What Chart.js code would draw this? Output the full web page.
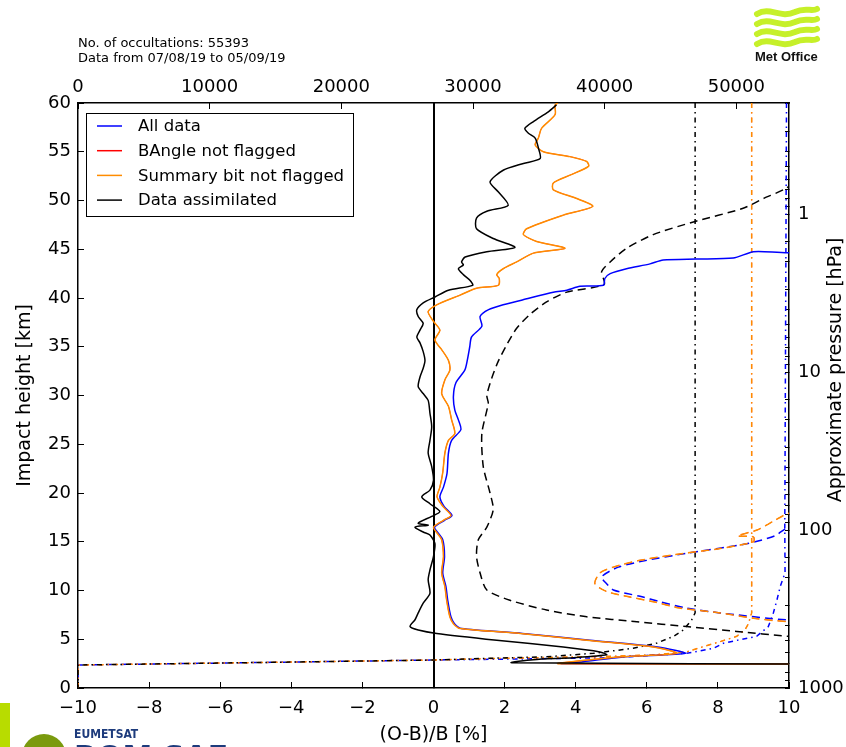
<!DOCTYPE html>
<html>
<head>
<meta charset="utf-8">
<title>Bending angle (O-B)/B statistics</title>
<script src="https://cdn.jsdelivr.net/npm/chart.js@4.4.1/dist/chart.umd.min.js"></script>
<style>
  html, body { margin: 0; padding: 0; background: #fff; }
  #wrap { position: relative; width: 846px; height: 747px; }
</style>
</head>
<body>
<div id="wrap"><canvas id="obChart"></canvas></div>
<script>
// header info
const nOccultations = 55393;
const dateFrom = "07/08/19";
const dateTo = "05/09/19";

const legendLabels = ["All data", "BAngle not flagged", "Summary bit not flagged", "Data assimilated"];
const colours = ["#0000ff", "#ff0000", "#ff8c00", "#000000"];

// tick labels
const obTicks = [-10, -8, -6, -4, -2, 0, 2, 4, 6, 8, 10];
const heightTicks = [0, 5, 10, 15, 20, 25, 30, 35, 40, 45, 50, 55, 60];
const countTicks = [0, 10000, 20000, 30000, 40000, 50000];
const pressureTicks = [1, 10, 100, 1000];

// mean (O-B)/B [%] against impact height [km]
const allMeanH = [59.8, 45.1, 44.75, 44.1, 44.0, 43.9, 43.5, 43.0, 42.5, 42.0, 41.3, 41.2, 40.8, 40.6, 39.8, 39.3, 38.8, 38.1, 37.1, 36.0, 35.0, 33.6, 32.6, 31.3, 29.9, 28.5, 27.5, 26.5, 25.4, 24.1, 22.0, 20.6, 19.6, 18.6, 17.7, 17.2, 16.5, 15.9, 15.2, 13.5, 11.8, 10.4, 9.0, 7.3, 6.6, 6.1, 5.6, 4.9, 4.2, 3.55, 3.2, 2.7, 2.5, 2.45];
const allMean = [13, 10.5, 9.0, 8.43, 7.40, 6.46, 6.09, 5.43, 4.97, 4.82, 4.78, 4.12, 3.75, 3.37, 2.5, 1.96, 1.55, 1.31, 1.36, 1.07, 1.02, 0.95, 0.88, 0.63, 0.56, 0.60, 0.70, 0.77, 0.51, 0.42, 0.38, 0.28, 0.18, 0.30, 0.52, 0.31, 0.03, 0.13, 0.26, 0.31, 0.26, 0.35, 0.40, 0.49, 0.59, 0.79, 2.5, 4.4, 6.3, 7.08, 5.4, 4.2, 3.6, 12];

const summaryMeanH = [60, 59.8, 58.8, 57.4, 56.4, 55.7, 55.0, 54.5, 54.0, 53.5, 52.6, 51.8, 51.1, 50.2, 49.4, 48.5, 47.1, 46.5, 45.8, 45.1, 44.6, 43.7, 43.0, 42.4, 42.0, 41.3, 41.0, 40.3, 39.3, 38.6, 37.6, 36.7, 35.7, 34.7, 33.6, 32.6, 31.6, 30.2, 28.9, 27.5, 26.1, 25.4, 24.1, 22.1, 20.6, 19.6, 18.6, 17.7, 17.2, 16.5, 15.9, 15.2, 13.5, 11.8, 10.4, 9.0, 7.3, 6.6, 6.1, 5.6, 4.9, 4.2, 3.55, 3.2, 2.7, 2.5, 2.45];
const summaryMean = [3.5, 3.42, 3.42, 3.04, 2.95, 2.86, 3.09, 3.84, 4.31, 4.36, 3.84, 3.37, 3.37, 4.03, 4.48, 3.65, 2.62, 2.53, 2.90, 3.70, 2.81, 2.34, 1.96, 1.78, 1.85, 1.82, 1.21, 0.75, 0.09, -0.15, 0.0, 0.18, 0.04, 0.23, 0.42, 0.46, 0.32, 0.23, 0.42, 0.51, 0.60, 0.42, 0.32, 0.26, 0.18, 0.10, 0.27, 0.49, 0.28, 0.0, 0.10, 0.23, 0.28, 0.23, 0.32, 0.37, 0.46, 0.56, 0.75, 2.44, 4.31, 6.19, 6.85, 5.3, 3.89, 3.5, 12];

// BAngle not flagged sits under the summary-bit curve in the plot
const bangleMeanH = summaryMeanH;
const bangleMean = summaryMean;

const assimMeanH = [59.8, 59.1, 58.1, 57.4, 56.9, 56.4, 55.4, 54.3, 53.8, 53.1, 51.9, 50.9, 49.5, 48.9, 48.2, 47.1, 46.1, 45.2, 44.75, 44.2, 43.7, 43.4, 43.0, 42.4, 41.8, 41.3, 40.8, 40.1, 39.5, 38.8, 38.1, 37.4, 36.7, 36.0, 35.4, 34.5, 33.6, 32.8, 31.9, 30.9, 30.2, 29.5, 28.2, 26.8, 25.4, 24.1, 22.7, 21.3, 20.3, 19.6, 18.9, 18.1, 17.6, 16.9, 16.7, 16.5, 16.0, 15.7, 14.8, 13.5, 12.1, 11.1, 9.7, 8.7, 7.7, 7.0, 6.3, 5.95, 5.6, 4.9, 4.2, 3.7, 3.4, 3.1, 2.9, 2.6, 2.45];
const assimMean = [3.46, 3.23, 2.81, 2.57, 2.67, 2.86, 2.95, 3.0, 2.53, 1.96, 1.59, 1.82, 2.1, 1.5, 1.21, 1.21, 1.68, 2.29, 1.5, 0.89, 0.79, 0.84, 0.70, 0.84, 1.03, 1.10, 0.42, 0.04, -0.29, -0.47, -0.43, -0.29, -0.38, -0.47, -0.38, -0.29, -0.24, -0.29, -0.38, -0.43, -0.29, -0.15, -0.10, -0.05, -0.10, -0.15, -0.05, 0.0, -0.10, -0.33, -0.10, 0.18, -0.05, -0.43, -0.15, -0.52, -0.29, -0.10, 0.04, 0.0, -0.10, -0.15, -0.10, -0.29, -0.43, -0.52, -0.66, -0.43, 0.09, 1.78, 3.65, 4.68, 4.87, 3.93, 2.81, 2.2, 12];

// standard deviations (dashed)
const allStdH = [18.5, 16.5, 15.6, 14.8, 13.8, 13.1, 12.4, 11.4, 10.7, 10.05, 9.4, 8.85, 8.2, 7.7, 6.97, 6.7];
const allStd = [12, 9.98, 9.6, 8.81, 7.1, 6.0, 5.2, 4.73, 4.87, 5.06, 5.81, 6.37, 7.12, 8.06, 9.98, 12];
const summaryStdH = [19, 17.9, 17.1, 16.2, 15.6, 15.5, 15.0, 14.3, 13.8, 13.1, 12.4, 11.8, 10.7, 9.9, 9.4, 8.85, 8.2, 7.7, 7.15, 6.8, 6.5];
const summaryStd = [12, 9.98, 9.56, 9.1, 8.55, 9.0, 9.0, 8.06, 7.03, 5.81, 5.06, 4.68, 4.54, 4.87, 5.43, 6.18, 6.93, 8.06, 9.0, 9.98, 12];
const assimStdH = [56, 51.2, 50.2, 49.2, 47.8, 46.5, 45.1, 43.7, 42.7, 41.4, 40.6, 39.6, 38.3, 36.9, 35.2, 33.5, 31.8, 30.0, 29.2, 26.1, 22.7, 20.0, 18.3, 16.5, 15.2, 13.5, 11.8, 10.05, 9.0, 8.0, 7.3, 6.8, 6.3, 5.8, 5.3, 4.8];
const assimStd = [12, 9.89, 9.28, 8.71, 7.31, 6.18, 5.43, 4.97, 4.73, 4.8, 3.75, 3.18, 2.71, 2.34, 2.06, 1.82, 1.64, 1.5, 1.54, 1.36, 1.40, 1.59, 1.68, 1.5, 1.26, 1.21, 1.31, 1.5, 2.15, 3.18, 4.31, 5.72, 7.12, 8.53, 9.98, 12];

// number of observations (dash-dot, top axis)
const allCountH = [60, 16.4, 11.8, 10.4, 9.0, 7.7, 6.3, 5.3, 4.6, 4.07, 3.56, 3.1, 2.87, 2.6, 2.36, 0];
const allCount = [53810, 53680, 53700, 53330, 53080, 52810, 52430, 51540, 49030, 48250, 46220, 40500, 27000, 13000, 0, 0];
const summaryCountH = [60, 7.7, 6.6, 5.95, 5.3, 4.75, 4.24, 3.7, 3.4, 3.25, 3.05, 2.87, 2.6, 2.36, 0];
const summaryCount = [51165, 51165, 50920, 50650, 50030, 48760, 47490, 46220, 43690, 40500, 32400, 27000, 13000, 0, 0];
const assimCountH = [60, 7.7, 6.97, 5.95, 5.3, 4.6, 4.07, 3.56, 3.2, 3.04, 2.87, 2.6, 2.36, 0];
const assimCount = [46870, 46870, 46600, 45980, 45225, 43960, 42170, 39150, 35590, 31050, 27000, 12960, 0, 0];

const countMax = 54000;

const DASHED = [8, 5];
const DASHDOT = [5, 4, 1.5, 4];

function pts(xs, hs) {
  return xs.map((x, i) => ({ x: x, y: hs[i] }));
}

function series(xs, hs, colour, dash, order, opts) {
  opts = opts || {};
  return {
    data: pts(xs, hs),
    borderColor: colour,
    borderWidth: opts.width || 1.5,
    borderDash: dash || [],
    showLine: true,
    pointRadius: 0,
    tension: opts.tension || 0,
    order: order,
    xAxisID: opts.axis || "x",
    yAxisID: "y",
  };
}

const datasets = [
  series(allMean, allMeanH, colours[0], null, 4, { tension: 0.25 }),
  series(bangleMean, bangleMeanH, colours[1], null, 3, { tension: 0.25, width: 0.8 }),
  series(summaryMean, summaryMeanH, colours[2], null, 2, { tension: 0.25 }),
  series(assimMean, assimMeanH, colours[3], null, 1, { tension: 0.25 }),
  series(allStd, allStdH, colours[0], DASHED, 8, { tension: 0.25 }),
  series(summaryStd, summaryStdH, colours[1], DASHED, 7, { tension: 0.25, width: 0.8 }),
  series(summaryStd, summaryStdH, colours[2], DASHED, 6, { tension: 0.25 }),
  series(assimStd, assimStdH, colours[3], DASHED, 5, { tension: 0.25 }),
  series(allCount, allCountH, colours[0], DASHDOT, 12, { axis: "x2" }),
  series(summaryCount, summaryCountH, colours[1], DASHDOT, 11, { axis: "x2", width: 0.8 }),
  series(summaryCount, summaryCountH, colours[2], DASHDOT, 10, { axis: "x2" }),
  series(assimCount, assimCountH, colours[3], DASHDOT, 9, { axis: "x2" }),
];

const setTicks = (arr) => (scale) => { scale.ticks = arr.map((v) => ({ value: v })); };

const decor = {
  id: "decor",
  afterDraw(chart) {
    const ctx = chart.ctx;
    const area = chart.chartArea;
    ctx.save();

    // header text
    ctx.fillStyle = "#000";
    ctx.font = '13px "DejaVu Sans"';
    ctx.textAlign = "left";
    ctx.textBaseline = "alphabetic";
    ctx.fillText("No. of occultations: " + nOccultations, 78, 47);
    ctx.fillText("Data from " + dateFrom + " to " + dateTo, 78, 62);

    // axis titles
    ctx.font = '19px "DejaVu Sans"';
    ctx.textAlign = "center";
    ctx.textBaseline = "middle";
    ctx.fillText("(O-B)/B [%]", (area.left + area.right) / 2, 735);
    ctx.save();
    ctx.translate(25, (area.top + area.bottom) / 2);
    ctx.rotate(-Math.PI / 2);
    ctx.fillText("Impact height [km]", 0, 0);
    ctx.restore();
    ctx.save();
    ctx.translate(836, 370);
    ctx.rotate(-Math.PI / 2);
    ctx.fillText("Approximate pressure [hPa]", 0, 0);
    ctx.restore();

    // legend box
    ctx.fillStyle = "#fff";
    ctx.fillRect(86, 113, 267, 103);
    ctx.strokeStyle = "#000";
    ctx.lineWidth = 1;
    ctx.strokeRect(86.5, 113.5, 267, 103);
    ctx.font = '16.5px "DejaVu Sans"';
    ctx.textAlign = "left";
    legendLabels.forEach((lab, i) => {
      const y = 126 + i * 24.7;
      ctx.strokeStyle = colours[i];
      ctx.lineWidth = 1.5;
      ctx.beginPath();
      ctx.moveTo(97, y);
      ctx.lineTo(122, y);
      ctx.stroke();
      ctx.fillStyle = "#000";
      ctx.fillText(lab, 138, y + 1);
    });

    // Met Office logo
    ctx.strokeStyle = "#c6f029";
    ctx.lineCap = "round";
    ctx.lineWidth = 6;
    for (let i = 0; i < 4; i++) {
      const y = 11 + i * 10;
      ctx.beginPath();
      ctx.moveTo(757, y + 3);
      ctx.bezierCurveTo(770, y - 5, 780, y + 8, 795, y + 1);
      ctx.bezierCurveTo(805, y - 4, 812, y + 1, 817, y - 2);
      ctx.stroke();
    }
    ctx.fillStyle = "#111";
    ctx.font = 'bold 13px "Liberation Sans"';
    ctx.textAlign = "left";
    ctx.textBaseline = "alphabetic";
    ctx.fillText("Met Office", 755, 61);

    // ROM SAF logo (cut off at bottom)
    ctx.fillStyle = "#b8dc00";
    ctx.fillRect(0, 703, 10, 44);
    ctx.fillStyle = "#7a9a0e";
    ctx.beginPath();
    ctx.arc(44, 756, 22, 0, Math.PI * 2);
    ctx.fill();
    ctx.fillStyle = "#1d3b7c";
    ctx.font = 'bold 12px "DejaVu Sans Condensed"';
    ctx.fillText("EUMETSAT", 74, 738);
    ctx.font = 'bold 30px "DejaVu Sans"';
    ctx.fillText("ROM SAF", 74, 767);

    ctx.restore();
  },
};

Chart.defaults.font.family = "DejaVu Sans";
Chart.defaults.font.size = 18;
Chart.defaults.color = "#000";

new Chart(document.getElementById("obChart"), {
  type: "scatter",
  data: { datasets: datasets },
  options: {
    responsive: true,
    maintainAspectRatio: false,
    animation: false,
    events: [],
    layout: { padding: 0 },
    plugins: { legend: { display: false }, tooltip: { enabled: false } },
    scales: {
      x: {
        type: "linear",
        position: "bottom",
        min: -10,
        max: 10,
        afterBuildTicks: setTicks(obTicks),
        afterFit: (s) => { s.height = 59; },
        ticks: {
          padding: 16,
          maxRotation: 0,
          autoSkip: false,
          callback: (v) => String(v).replace("-", "\u2212"),
        },
        grid: {
          drawOnChartArea: true,
          color: (c) => (c.tick && c.tick.value === 0 ? "#000" : "rgba(0,0,0,0)"),
          lineWidth: (c) => (c.tick && c.tick.value === 0 ? 2 : 1),
          tickColor: "#000",
          tickWidth: 1,
          tickLength: -6,
        },
        border: { color: "#000", width: 1.5 },
      },
      x2: {
        type: "linear",
        position: "top",
        min: 0,
        max: countMax,
        afterBuildTicks: setTicks(countTicks),
        afterFit: (s) => { s.height = 103; },
        ticks: { padding: 11, maxRotation: 0, autoSkip: false, callback: (v) => String(v) },
        grid: { drawOnChartArea: false, tickColor: "#000", tickLength: -6 },
        border: { color: "#000", width: 1.5 },
      },
      y: {
        type: "linear",
        position: "left",
        min: 0,
        max: 60,
        afterBuildTicks: setTicks(heightTicks),
        afterFit: (s) => { s.width = 78; },
        ticks: { padding: 13, autoSkip: false },
        grid: { drawOnChartArea: false, tickColor: "#000", tickLength: -6 },
        border: { color: "#000", width: 1.5 },
      },
      y2: {
        type: "logarithmic",
        position: "right",
        min: 0.198,
        max: 1000,
        reverse: true,
        afterFit: (s) => { s.width = 57; },
        ticks: {
          padding: 13,
          autoSkip: false,
          callback: (v) => (pressureTicks.includes(v) ? String(v) : ""),
        },
        grid: { drawOnChartArea: false, tickColor: "#000", tickLength: -4 },
        border: { color: "#000", width: 1.5 },
      },
    },
  },
  plugins: [decor],
});
</script>
</body>
</html>
